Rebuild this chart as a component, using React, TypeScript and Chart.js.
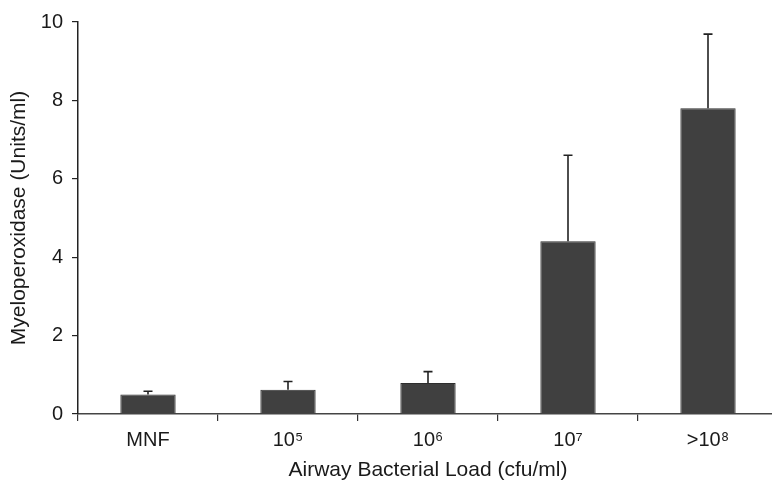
import React, { useEffect, useRef } from "react";
import { Chart, registerables } from "chart.js";

Chart.register(...registerables);

const categories = ["MNF", "10⁵", "10⁶", "10⁷", ">10⁸"];
const meanValues = [0.5, 0.62, 0.79, 4.41, 7.8];
const errorValues = [0.08, 0.21, 0.29, 2.19, 1.89];
const yTicks = [0, 2, 4, 6, 8, 10];

const FONT = "'Liberation Sans', Arial, Helvetica, sans-serif";

const errorBarPlugin = {
  id: "errorBars",
  afterDatasetsDraw(chart: any) {
    const ctx = chart.ctx;
    const meta = chart.getDatasetMeta(0);
    const yScale = chart.scales.y;
    ctx.save();
    ctx.strokeStyle = "#222";
    ctx.lineWidth = 1.6;
    meta.data.forEach((bar: any, i: number) => {
      const x = bar.x;
      const yTop = yScale.getPixelForValue(meanValues[i] + errorValues[i]);
      const yBase = yScale.getPixelForValue(meanValues[i]);
      ctx.beginPath();
      ctx.moveTo(x, yBase);
      ctx.lineTo(x, yTop);
      ctx.moveTo(x - 4.5, yTop);
      ctx.lineTo(x + 4.5, yTop);
      ctx.stroke();
    });
    ctx.restore();
  },
};

export default function App() {
  const ref = useRef<HTMLCanvasElement | null>(null);
  useEffect(() => {
    if (!ref.current) return;
    const chart = new Chart(ref.current, {
      type: "bar",
      data: {
        labels: categories,
        datasets: [
          {
            data: meanValues,
            backgroundColor: "#404040",
            borderColor: "#2e2e2e",
            borderWidth: 1,
            barPercentage: 0.395,
            categoryPercentage: 1,
          },
        ],
      },
      options: {
        responsive: false,
        animation: false,
        devicePixelRatio: 1,
        layout: { padding: { top: 22, right: 2, left: 0, bottom: 0 } },
        plugins: { legend: { display: false }, tooltip: { enabled: false } },
        scales: {
          x: {
            grid: {
              offset: true,
              drawOnChartArea: false,
              drawTicks: true,
              tickLength: 7,
              color: "#333",
              lineWidth: 1.2,
            },
            border: { color: "#444", width: 1.5 },
            ticks: {
              color: "#1a1a1a",
              font: { family: FONT, size: 20 },
              padding: 7,
              maxRotation: 0,
              autoSkip: false,
            },
            title: {
              display: true,
              text: "Airway Bacterial Load (cfu/ml)",
              color: "#1a1a1a",
              font: { family: FONT, size: 21, lineHeight: 1 },
              padding: { top: 0, bottom: 0 },
            },
            afterFit(scale: any) {
              scale.height = 67;
            },
          },
          y: {
            min: 0,
            max: 10,
            afterBuildTicks(scale: any) {
              scale.ticks = yTicks.map((v) => ({ value: v }));
            },
            grid: {
              drawOnChartArea: false,
              drawTicks: true,
              tickLength: 6,
              color: "#222",
              lineWidth: 1.2,
            },
            border: { color: "#222", width: 1.5 },
            ticks: {
              color: "#1a1a1a",
              font: { family: FONT, size: 20 },
              padding: 9,
            },
            title: {
              display: true,
              text: "Myeloperoxidase (Units/ml)",
              color: "#1a1a1a",
              font: { family: FONT, size: 21, lineHeight: 1 },
              padding: { top: 9, bottom: 0 },
            },
            afterFit(scale: any) {
              scale.width = 78;
            },
          },
        },
      },
      plugins: [errorBarPlugin],
    });
    return () => chart.destroy();
  }, []);

  return (
    <div
      style={{
        position: "fixed",
        left: 0,
        top: 0,
        width: 772,
        height: 481,
        overflow: "hidden",
        background: "#fff",
      }}
    >
      <canvas ref={ref} width={780} height={481} style={{ width: 780, height: 481, display: "block" }} />
    </div>
  );
}
